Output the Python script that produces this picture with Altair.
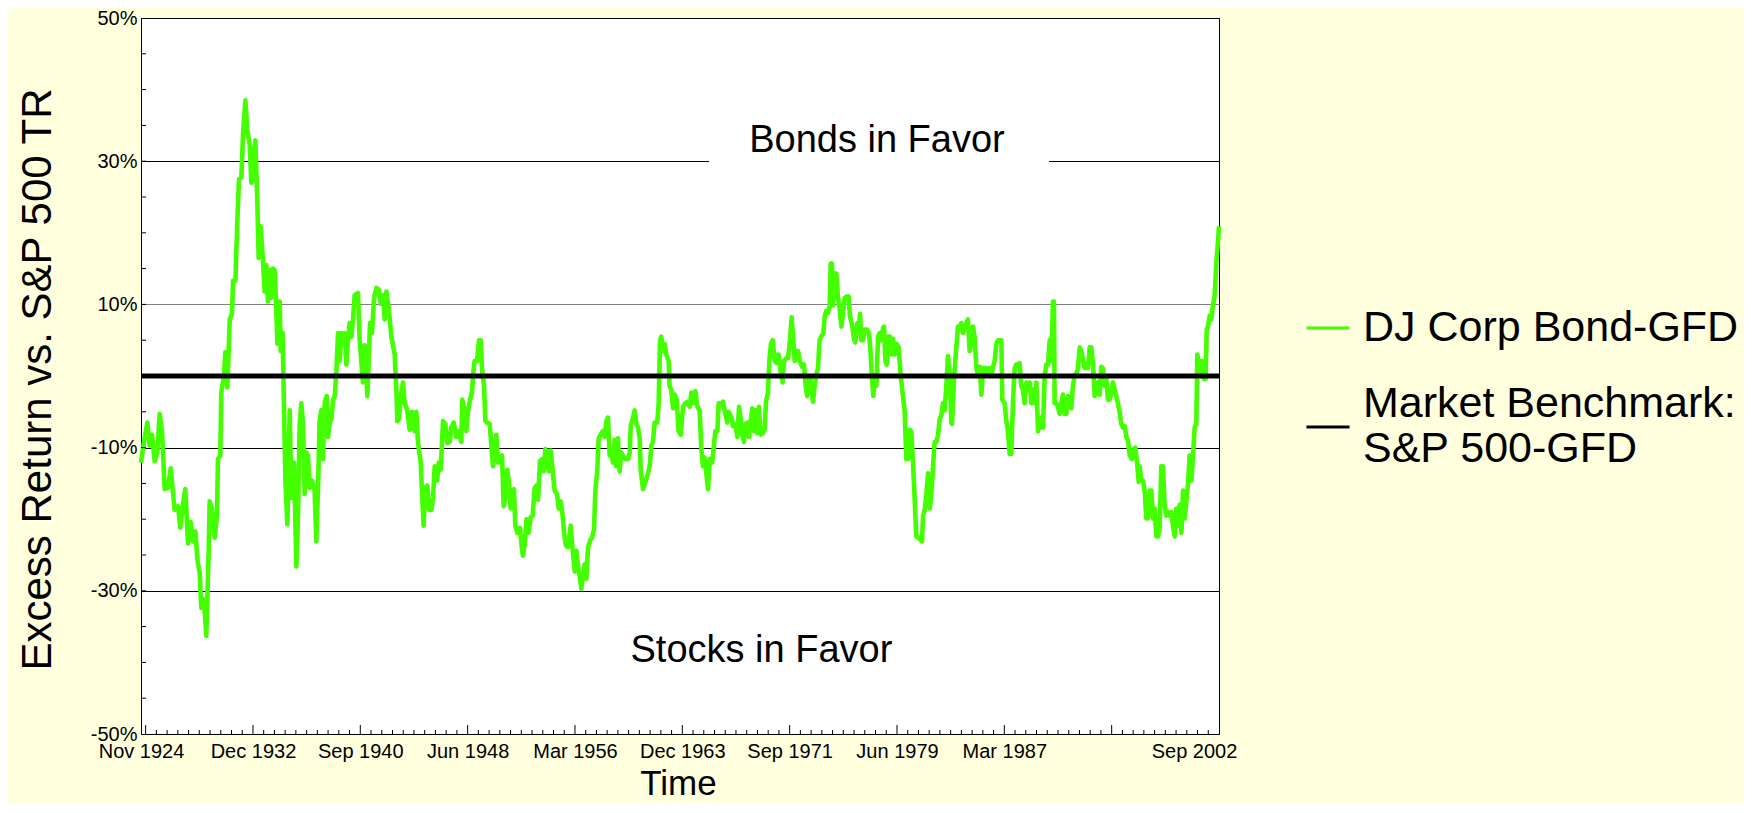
import altair as alt
import pandas as pd

# ---------------- data ----------------
# time in decimal years, value in percent
BOND_T = [
    1924.83, 1925.05, 1925.29, 1925.46, 1925.63, 1925.82, 1926.01, 1926.18, 1926.35, 1926.54,
    1926.78, 1926.98, 1927.26, 1927.51, 1927.67, 1927.87, 1928.03, 1928.23, 1928.42, 1928.59,
    1928.76, 1928.90, 1929.07, 1929.19, 1929.38, 1929.55, 1929.72, 1929.79, 1929.96, 1930.15,
    1930.32, 1930.39, 1930.56, 1930.63, 1930.83, 1930.92, 1931.07, 1931.16, 1931.24, 1931.40,
    1931.48, 1931.65, 1931.72, 1931.79, 1931.91, 1932.08, 1932.20, 1932.37, 1932.51, 1932.68,
    1932.80, 1932.92, 1932.99, 1933.09, 1933.23, 1933.33, 1933.47, 1933.64, 1933.76, 1933.88,
    1934.00, 1934.12, 1934.24, 1934.36, 1934.48, 1934.58, 1934.68, 1934.85, 1934.92, 1935.06,
    1935.16, 1935.26, 1935.40, 1935.57, 1935.69, 1935.88, 1936.05, 1936.17, 1936.29, 1936.41,
    1936.53, 1936.65, 1936.77, 1936.89, 1937.01, 1937.18, 1937.37, 1937.49, 1937.61, 1937.73,
    1937.85, 1937.97, 1938.10, 1938.24, 1938.34, 1938.46, 1938.58, 1938.70, 1938.82, 1938.94,
    1939.06, 1939.18, 1939.30, 1939.42, 1939.54, 1939.66, 1939.78, 1939.90, 1940.02, 1940.14,
    1940.26, 1940.50, 1940.62, 1940.74, 1940.86, 1940.98, 1941.18, 1941.27, 1941.37, 1941.51,
    1941.66, 1941.83, 1941.99, 1942.14, 1942.31, 1942.43, 1942.55, 1942.72, 1942.91, 1943.15,
    1943.27, 1943.34, 1943.46, 1943.58, 1943.75, 1943.87, 1944.06, 1944.23, 1944.40,
    1944.59, 1944.71, 1944.83, 1945.03, 1945.12, 1945.24, 1945.36, 1945.51, 1945.63, 1945.80,
    1945.92, 1946.04, 1946.21, 1946.33, 1946.47, 1946.64, 1946.81, 1946.95, 1947.12, 1947.24,
    1947.41, 1947.60, 1947.77, 1947.96, 1948.03, 1948.20, 1948.32, 1948.44, 1948.59, 1948.73,
    1948.83, 1948.92, 1949.09, 1949.24, 1949.36, 1949.45, 1949.60, 1949.70, 1949.84, 1950.01,
    1950.13, 1950.25, 1950.37, 1950.49, 1950.61, 1950.73, 1950.90, 1951.02, 1951.14, 1951.28,
    1951.38, 1951.52, 1951.64, 1951.76, 1951.86, 1952.01, 1952.20, 1952.32, 1952.41, 1952.54,
    1952.66, 1952.82, 1952.97, 1953.11, 1953.26, 1953.40, 1953.50, 1953.64, 1953.79, 1953.91,
    1954.03, 1954.17, 1954.27, 1954.41, 1954.58, 1954.70, 1954.87, 1954.99, 1955.13, 1955.25,
    1955.38, 1955.50, 1955.66, 1955.86, 1955.98, 1956.15, 1956.27, 1956.39, 1956.51, 1956.63,
    1956.75, 1956.87, 1956.99, 1957.11, 1957.28, 1957.40, 1957.54, 1957.64, 1957.78, 1957.88,
    1958.02, 1958.17, 1958.31, 1958.43, 1958.55, 1958.67, 1958.79, 1958.91, 1959.03, 1959.15,
    1959.27, 1959.39, 1959.51, 1959.63, 1959.80, 1960.00, 1960.12, 1960.19, 1960.36, 1960.48,
    1960.60, 1960.72, 1960.84, 1960.91, 1961.08, 1961.25, 1961.44, 1961.56, 1961.68, 1961.80,
    1961.92, 1962.11, 1962.21, 1962.31, 1962.40, 1962.52, 1962.64, 1962.76, 1962.93, 1963.00,
    1963.12, 1963.25, 1963.37, 1963.51, 1963.65, 1963.80, 1963.97,
    1964.13, 1964.28, 1964.45, 1964.57, 1964.69, 1964.86, 1965.00, 1965.17, 1965.29, 1965.41,
    1965.53, 1965.65, 1965.77, 1965.89, 1966.06, 1966.20, 1966.30, 1966.45, 1966.54, 1966.69,
    1966.85, 1966.97, 1967.17, 1967.26, 1967.46, 1967.58, 1967.75, 1967.89, 1968.01, 1968.13,
    1968.23, 1968.37, 1968.49, 1968.61, 1968.73, 1968.85, 1968.97, 1969.09, 1969.21, 1969.33,
    1969.45, 1969.57, 1969.74, 1969.86, 1969.96, 1970.10, 1970.20, 1970.32, 1970.44, 1970.59,
    1970.73, 1970.87, 1971.02, 1971.16, 1971.26, 1971.43, 1971.55, 1971.69, 1971.81, 1971.91,
    1972.03, 1972.15, 1972.27, 1972.39, 1972.56, 1972.70, 1972.85, 1972.94, 1973.06, 1973.18,
    1973.35, 1973.47, 1973.59, 1973.71, 1973.83, 1973.95, 1974.10, 1974.20, 1974.32, 1974.44,
    1974.56, 1974.63, 1974.72, 1974.80, 1974.92, 1975.04, 1975.16, 1975.28, 1975.40, 1975.52,
    1975.64, 1975.76, 1975.93, 1976.02, 1976.17, 1976.31, 1976.41, 1976.55, 1976.65, 1976.75,
    1976.84, 1976.96, 1977.08, 1977.25, 1977.40, 1977.52, 1977.61, 1977.71, 1977.81, 1977.93,
    1978.05, 1978.17, 1978.29, 1978.41, 1978.48, 1978.58, 1978.67, 1978.77, 1978.91, 1979.01,
    1979.13, 1979.25, 1979.39, 1979.54, 1979.68, 1979.85, 1979.97, 1980.09, 1980.21, 1980.33,
    1980.45, 1980.57, 1980.69, 1980.81, 1980.98, 1981.13, 1981.22, 1981.30, 1981.42, 1981.54,
    1981.66, 1981.78, 1981.90, 1982.02, 1982.14, 1982.26, 1982.38, 1982.50, 1982.62, 1982.74,
    1982.86, 1982.98, 1983.10, 1983.22, 1983.34,
    1983.39, 1983.53, 1983.70, 1983.82, 1983.94, 1984.06, 1984.18, 1984.30, 1984.42, 1984.54,
    1984.66, 1984.78, 1984.90, 1985.02, 1985.15, 1985.27, 1985.39, 1985.51, 1985.63, 1985.75,
    1985.87, 1985.99, 1986.11, 1986.23, 1986.35, 1986.47, 1986.59, 1986.71, 1986.83, 1986.95,
    1987.02, 1987.19, 1987.31, 1987.43, 1987.55, 1987.67, 1987.79, 1987.91, 1988.03, 1988.15,
    1988.27, 1988.39, 1988.51, 1988.63, 1988.76, 1988.88, 1989.00, 1989.12, 1989.24, 1989.36,
    1989.48, 1989.60, 1989.72, 1989.84, 1989.96, 1990.08, 1990.20, 1990.32, 1990.44, 1990.56,
    1990.68, 1990.75, 1990.80, 1990.92, 1991.04, 1991.16, 1991.28, 1991.40, 1991.52, 1991.64,
    1991.76, 1991.88, 1992.00, 1992.12, 1992.25, 1992.37, 1992.49, 1992.61, 1992.73, 1992.85,
    1992.97, 1993.09, 1993.21, 1993.33, 1993.45, 1993.57, 1993.69, 1993.81, 1993.93, 1994.05,
    1994.17, 1994.29, 1994.41, 1994.53, 1994.65, 1994.77, 1994.89, 1995.01, 1995.13, 1995.25,
    1995.37, 1995.49, 1995.61, 1995.73, 1995.86, 1995.98, 1996.10, 1996.22, 1996.38, 1996.51,
    1996.63, 1996.77, 1996.87, 1996.94, 1997.06, 1997.18, 1997.30, 1997.42, 1997.54, 1997.66,
    1997.78, 1997.90, 1998.02, 1998.14, 1998.26, 1998.38, 1998.50, 1998.62, 1998.74, 1998.86,
    1998.98, 1999.10, 1999.22, 1999.34, 1999.47, 1999.59, 1999.71, 1999.83, 1999.95, 2000.07,
    2000.19, 2000.31, 2000.43, 2000.55, 2000.67, 2000.79, 2000.91, 2001.03, 2001.10, 2001.20,
    2001.29, 2001.44, 2001.58, 2001.70, 2001.78, 2001.87, 2001.99, 2002.11, 2002.23, 2002.35,
    2002.47, 2002.59, 2002.67,
]
BOND_V = [
    -12.1, -9.2, -6.5, -9.7, -8.2, -11.9, -10.7, -5.3, -7.7, -15.8,
    -15.6, -12.9, -18.7, -18.2, -21.2, -17.8, -15.8, -23.4, -20.4, -23.1,
    -21.7, -25.6, -27.5, -32.4, -31.2, -36.3, -24.4, -17.5, -18.5, -22.6,
    -19.5, -11.6, -11.1, -2.3, 0.1, 3.3, -1.6, 3.5, 7.9, 8.7,
    13.3, 13.3, 17.7, 21.6, 27.5, 27.7, 33.8, 38.5, 34.3, 32.4,
    27.0, 27.7, 31.4, 32.9, 24.5, 16.5, 20.9, 16.2, 11.8, 15.5,
    10.4, 14.8, 10.9, 15.0, 14.8, 10.4, 4.5, 10.4, 3.5, 6.0,
    -4.8, -14.6, -20.7, -4.8, -17.0, -12.1, -26.6, -19.5, -6.7, -3.8,
    -6.7, -16.5, -10.7, -11.1, -15.6, -14.6, -16.0, -23.1, -16.0, -6.3,
    -4.8, -11.6, -3.6, -2.8, -8.5, -6.5, -6.0, -3.3, -2.8, 0.6,
    6.0, 2.1, 6.0, 4.5, 6.0, 1.6, 5.0, 7.4, 5.5, 7.9,
    11.3, 11.6, 5.0, 2.1, -0.9, 4.3, -2.8, 2.1, 7.4, 6.0,
    10.9, 12.3, 12.1, 10.1, 11.3, 7.9, 11.8, 9.4, 5.5, 3.0,
    -1.9, -6.3, -6.0, -2.8, -0.9, -3.8, -4.8, -7.5, -5.0,
    -7.7, -5.0, -9.2, -12.1, -16.0, -20.9, -15.6, -15.3, -18.7, -18.7,
    -17.0, -12.6, -14.6, -12.1, -13.1, -6.3, -6.7, -9.4, -9.2, -7.2,
    -6.5, -8.5, -7.7, -9.2, -3.3, -4.8, -7.7, -5.0, -3.3, -2.3,
    0.6, 2.1, 2.1, 5.0, 5.0, 1.1, -1.4, -6.3, -6.5, -6.7,
    -9.7, -12.6, -9.7, -8.2, -12.1, -11.4, -11.1, -18.2, -17.0, -13.1,
    -14.6, -18.5, -16.0, -15.8, -20.9, -21.9, -21.2, -23.9, -25.1, -23.4,
    -20.0, -21.9, -19.7, -19.5, -15.6, -15.3, -17.3, -11.9, -11.6, -13.3,
    -10.2, -10.7, -13.3, -10.4, -13.8, -16.0, -16.5, -18.5, -17.5, -19.0,
    -21.9, -23.6, -23.9, -20.9, -23.9, -27.3, -24.4, -26.6, -28.0, -29.7,
    -27.8, -26.3, -28.3, -23.9, -22.9, -22.6, -21.4, -16.0, -13.1, -8.7,
    -8.2, -7.7, -8.5, -6.3, -5.8, -11.1, -10.7, -12.1, -8.9, -12.6,
    -8.7, -13.3, -10.7, -11.1, -11.6, -11.6, -10.7, -7.0, -5.8, -4.8,
    -6.7, -7.2, -8.7, -13.1, -15.8, -14.8, -13.6, -12.6, -9.7, -9.2,
    -6.5, -6.5, -3.8, 5.0, 5.5, 3.5, 4.5, 3.0, 2.1, -1.4,
    -1.9, -4.5, -2.6, -3.3, -7.7, -8.2, -4.3,
    -3.8, -3.6, -4.3, -2.3, -3.8, -2.1, -4.3, -4.8, -10.2, -12.6,
    -11.4, -13.6, -15.8, -11.6, -12.1, -9.7, -7.7, -7.7, -3.8, -4.1,
    -3.6, -4.8, -6.5, -5.0, -5.8, -7.0, -6.7, -8.5, -4.3, -5.8,
    -8.2, -9.2, -6.7, -6.5, -8.5, -6.5, -4.5, -7.7, -4.8, -8.0,
    -4.3, -8.2, -8.0, -7.5, -3.6, -2.3, 2.1, 4.5, 5.0, 2.1,
    1.8, 3.0, 0.6, -0.9, 2.1, 2.5, 2.5, 5.0, 8.2, 5.5,
    2.1, 3.5, 3.5, 2.1, 1.3, 1.6, -1.9, -2.8, -0.4, -0.4,
    -3.6, -1.4, 0.1, 1.1, 5.0, 5.5, 6.0, 8.4, 9.1, 8.8,
    9.9, 15.7, 15.7, 9.9, 14.3, 14.3, 10.9, 9.4, 6.9, 8.8,
    10.9, 11.1, 11.1, 8.4, 7.2, 5.2, 4.7, 7.4, 6.0, 8.7,
    5.0, 5.0, 6.5, 6.5, 6.0, 3.0, -0.4, -2.8, 0.1, -1.4,
    5.5, 6.0, 5.0, 6.7, 6.9, 2.1, 1.6, 5.5, 5.5, 3.0,
    5.2, 3.0, 4.5, 4.0, 0.1, -2.8, -4.8, -11.6, -11.6, -7.5,
    -7.7, -12.1, -17.0, -22.4, -22.6, -22.9, -23.1, -19.5, -18.7, -16.5,
    -13.6, -18.5, -16.5, -12.6, -9.2, -9.2, -8.2, -6.0, -5.5, -3.8,
    -4.8, -1.4, 2.8, 0.6, -6.5,
    -6.7, -0.4, 4.0, 6.9, 6.7, 7.4, 6.0, 6.9, 7.4, 7.9,
    3.5, 4.5, 6.9, 5.5, 1.1, 0.1, 1.3, -2.6, 1.1, 0.6,
    1.1, 0.1, 1.1, 0.1, 1.3, 2.1, 4.5, 5.0, 5.0, 5.0,
    -3.3, -3.8, -6.3, -7.7, -10.9, -10.9, -3.8, 1.1, 1.6, 1.6,
    1.8, -1.4, -1.9, -3.8, -0.9, -1.9, -0.9, -3.8, -1.9, -3.8,
    -0.9, -7.7, -5.8, -7.2, -7.2, 0.1, 1.6, 1.6, 5.0, 2.1,
    10.4, 10.4, -3.8, -3.8, -4.3, -5.3, -3.8, -2.6, -5.3, -5.3,
    -2.8, -3.8, -4.5, -1.4, 0.1, 0.3, 1.1, 4.0, 3.5, 2.1,
    1.1, 1.6, 1.1, 4.0, 4.0, 1.6, -2.8, -2.3, -0.9, -2.6,
    1.3, 1.1, -1.4, -0.4, -3.3, -3.3, -2.3, -0.9, -1.9, -2.8,
    -3.8, -5.0, -6.7, -7.2, -7.0, -8.5, -9.0, -11.1, -11.6, -10.2,
    -10.0, -12.4, -14.8, -12.6, -14.6, -14.6, -16.0, -19.9, -19.9, -16.0,
    -16.0, -19.9, -18.5, -22.4, -22.4, -21.4, -12.6, -12.6, -18.0, -19.5,
    -19.0, -19.5, -19.0, -20.9, -22.4, -18.5, -20.9, -18.0, -21.9, -16.0,
    -19.9, -17.5, -15.1, -11.1, -14.6, -11.1, -7.2, -6.7, 3.0, 2.1,
    0.1, 2.1, -0.4, -0.4, 6.5, 6.9, 8.4, 7.9, 9.9, 11.1,
    15.7, 18.7, 20.9,
]

BENCH_T = [1924 + 10 / 12, 2002 + 8 / 12]
BENCH_V = [0.0, 0.0]

SERIES = ["DJ Corp Bond-GFD", "Market Benchmark: S&P 500-GFD"]
COLORS = ["#44FF00", "#000000"]

# x-axis labels and major tick dates (year, month)
X_LABELS = [(1924, 11), (1932, 12), (1940, 9), (1948, 6), (1956, 3), (1963, 12),
            (1971, 9), (1979, 6), (1987, 3), (2002, 9)]
X_MAJOR = [(1925, 3), (1932, 12), (1940, 9), (1948, 6), (1956, 3), (1963, 12),
           (1971, 9), (1979, 6), (1987, 3), (1994, 12)]
Y_LABELS = [-50, -30, -10, 10, 30, 50]
Y_MINOR = [-45, -40, -35, -30, -25, -20, -15, -10, -5, 0, 5, 10, 15, 20, 25, 30, 35, 40, 45]

ANNOT_TEXT = ["Bonds in Favor", "Stocks in Favor"]
ANNOT_T = [1977.97, 1969.63]
ANNOT_V = [31.3, -40.0]
BOX_T = [1965.84, 1990.39]
BOX_V = [28.0, 36.0]


def dec(ym):
    return ym[0] + (ym[1] - 1) / 12


X_DOMAIN = [dec((1924, 11)), dec((2002, 9))]
FONT = "Liberation Sans"

# minor ticks: ten subdivisions between majors
major_dec = [dec(m) for m in X_MAJOR]
step = (major_dec[1] - major_dec[0]) / 10
minor_dec = []
k = 0
while major_dec[0] + k * step <= X_DOMAIN[1] + 1e-6:
    if k % 10 != 0:
        minor_dec.append(major_dec[0] + k * step)
    k += 1

bond_df = pd.DataFrame({"t": BOND_T, "v": BOND_V, "series": SERIES[0]})
bench_df = pd.DataFrame({"t": BENCH_T, "v": BENCH_V, "series": SERIES[1]})
annot_df = pd.DataFrame({"t": ANNOT_T, "v": ANNOT_V, "label": ANNOT_TEXT})
box_df = pd.DataFrame({"t": [BOX_T[0]], "t2": [BOX_T[1]], "v": [BOX_V[0]], "v2": [BOX_V[1]]})
ymin_df = pd.DataFrame({"v": Y_MINOR})
xmaj_df = pd.DataFrame({"t": major_dec})
xmin_df = pd.DataFrame({"t": minor_dec})

xscale = alt.Scale(domain=X_DOMAIN, nice=False, zero=False)
yscale = alt.Scale(domain=[-50, 50], nice=False, zero=False)

month_expr = ("['Jan','Feb','Mar','Apr','May','Jun','Jul','Aug','Sep','Oct','Nov','Dec']"
              "[round((datum.value - floor(datum.value)) * 12)] + ' ' + floor(datum.value)")

x_axis = alt.Axis(
    values=[dec(m) for m in X_LABELS], labelExpr=month_expr, labelFont=FONT,
    labelFontSize=20, labelColor="black", labelPadding=7, ticks=False, domain=False,
    grid=False, labelOverlap=False, labelFlush=False, labelBound=False,
    labelOffset={"condition": {"test": "datum.value > 2000", "value": -25}, "value": 0},
    title="Time", titleFont=FONT, titleFontSize=35, titleFontWeight="normal",
    titleColor="black", titleX=537, titleY=60, titleBaseline="alphabetic", titleAlign="center",
)
y_axis = alt.Axis(
    values=Y_LABELS, labelExpr="datum.value + '%'", labelFont=FONT, labelFontSize=20,
    labelColor="black", labelPadding=4, ticks=False, domain=False, grid=True,
    gridColor={"condition": {"test": "datum.value == 10", "value": "#808080"}, "value": "#000000"},
    gridWidth=1.2, labelOverlap=False,
    title="Excess Return vs. S&P 500 TR", titleFont=FONT, titleFontSize=42,
    titleFontWeight="normal", titleColor="black", titleAngle=270, titleX=-91, titleY=361,
    titleBaseline="alphabetic", titleAlign="center",
)

BENCH_LABEL = SERIES[1]
legend = alt.Legend(
    orient="none", legendX=1164, legendY=287, title=None, symbolType="stroke",
    symbolSize=1849, symbolStrokeWidth=3, labelFont=FONT, labelFontSize=43,
    labelColor="black", labelLimit=800, labelOffset=12, rowPadding=33, padding=0,
    labelExpr=("datum.label == '" + BENCH_LABEL + "' ? "
               "['Market Benchmark:', 'S&P 500-GFD'] : datum.label"),
    labelBaseline={"expr": "datum.value == '" + BENCH_LABEL + "' ? 'line-bottom' : 'middle'"},
)
color = alt.Color("series:N", scale=alt.Scale(domain=SERIES, range=COLORS), legend=legend)

X = lambda f="t:Q": alt.X(f, scale=xscale, axis=x_axis)
Y = lambda f="v:Q": alt.Y(f, scale=yscale, axis=y_axis)

box = alt.Chart(box_df).mark_rect(color="white").encode(
    x=X(), x2="t2:Q", y=Y(), y2="v2:Q",
)
text = alt.Chart(annot_df).mark_text(font=FONT, fontSize=38, color="black",
                                      baseline="alphabetic", align="center").encode(
    x=X(), y=Y(), text="label:N",
)
bond = alt.Chart(bond_df).mark_line(strokeWidth=4.6, strokeJoin="round").encode(
    x=X(), y=Y(), color=color, order="t:Q",
)
bench = alt.Chart(bench_df).mark_line(strokeWidth=5).encode(
    x=X(), y=Y(), color=color,
)
ytick = alt.Chart(ymin_df).mark_rule(color="black", strokeWidth=1).encode(
    y=Y(), x=alt.value(0), x2=alt.value(5),
)
xmaj = alt.Chart(xmaj_df).mark_rule(color="black", strokeWidth=1).encode(
    x=X(), y=alt.value(716), y2=alt.value(707),
)
xmin = alt.Chart(xmin_df).mark_rule(color="black", strokeWidth=1).encode(
    x=X(), y=alt.value(716), y2=alt.value(712),
)

chart = alt.layer(box, text, bond, bench, ytick, xmaj, xmin).properties(
    width=1078, height=716,
    autosize=alt.AutoSizeParams(type="none"),
    padding={"left": 133, "top": 10, "right": 525, "bottom": 69},
).configure(
    font=FONT, background="#FFFFDD",
).configure_view(
    fill="white", stroke="black", strokeWidth=1,
)

chart.save("out.html", embed_options={"renderer": "svg", "actions": False})
